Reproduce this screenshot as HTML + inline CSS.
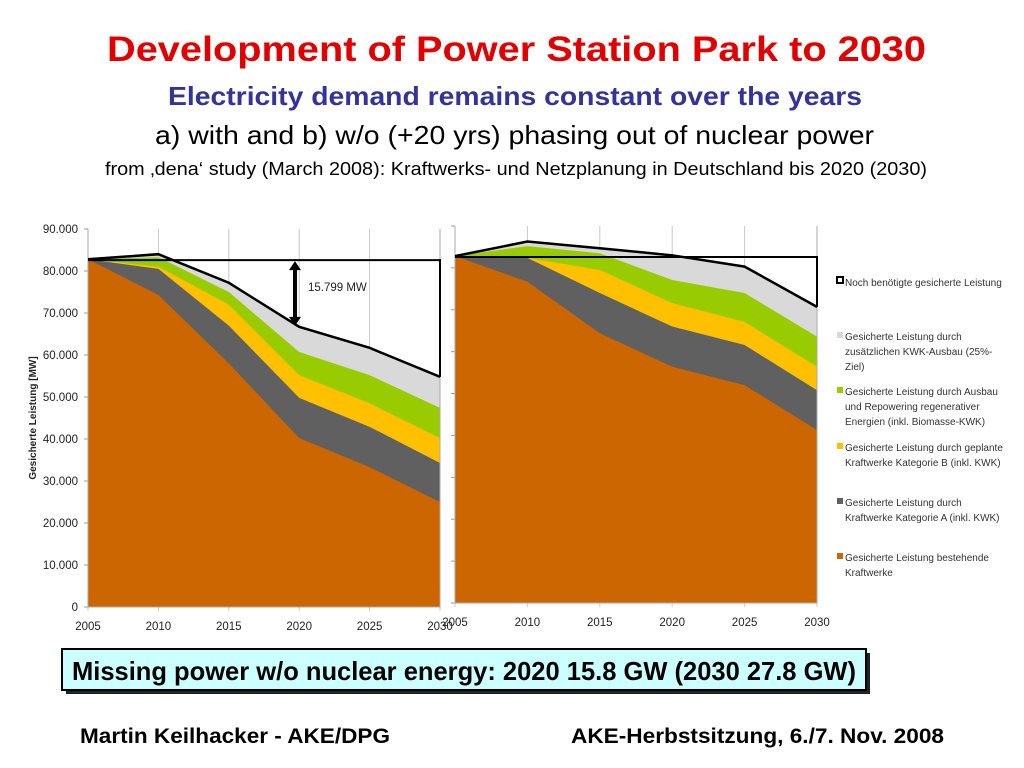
<!DOCTYPE html>
<html><head><meta charset="utf-8"><style>
html,body{margin:0;padding:0;background:#fff}
svg{display:block;font-family:"Liberation Sans",Arial,sans-serif}
</style></head><body>
<svg id="s" width="1024" height="768" viewBox="0 0 1024 768">
<text x="107" y="61" textLength="819" lengthAdjust="spacingAndGlyphs" font-size="35" font-weight="bold" fill="#e00000">Development of Power Station Park to 2030</text>
<text x="168" y="105" textLength="694" lengthAdjust="spacingAndGlyphs" font-size="26" font-weight="bold" fill="#333399">Electricity demand remains constant over the years</text>
<text x="155" y="144" textLength="719" lengthAdjust="spacingAndGlyphs" font-size="26" fill="#000">a) with and b) w/o (+20 yrs) phasing out of nuclear power</text>
<text x="105" y="175" textLength="822" lengthAdjust="spacingAndGlyphs" font-size="18" fill="#000">from ‚dena‘ study (March 2008): Kraftwerks- und Netzplanung in Deutschland bis 2020 (2030)</text>
<g id="charts"></g>
<g id="legend"></g>
<rect x="66" y="653" width="804" height="41" fill="#222"/>
<rect x="62" y="649" width="804" height="41" fill="#ccffff" stroke="#000" stroke-width="2"/>
<text x="72" y="680" textLength="784" lengthAdjust="spacingAndGlyphs" font-size="26" font-weight="bold">Missing power w/o nuclear energy: 2020 15.8 GW (2030 27.8 GW)</text>
<text x="80" y="743" textLength="310" lengthAdjust="spacingAndGlyphs" font-size="21" font-weight="bold">Martin Keilhacker - AKE/DPG</text>
<text x="571" y="743" textLength="373" lengthAdjust="spacingAndGlyphs" font-size="21" font-weight="bold">AKE-Herbstsitzung, 6./7. Nov. 2008</text>
</svg>
<script>
const years = [2005, 2010, 2015, 2020, 2025, 2030];
const yTicks = [0, 10000, 20000, 30000, 40000, 50000, 60000, 70000, 80000, 90000];
const yTickLabels = ["0","10.000","20.000","30.000","40.000","50.000","60.000","70.000","80.000","90.000"];
const demand = 82600;
// Cumulative tops, scenario a (with nuclear phase-out)
const aOrange = [82800, 74300, 58000, 40200, 33300, 25000];
const aGrey   = [82800, 80500, 67000, 49800, 42900, 34300];
const aYellow = [82800, 81000, 72000, 55200, 48500, 40200];
const aGreen  = [82800, 83300, 75000, 60700, 55200, 47400];
const aTotal  = [82800, 84000, 77200, 66700, 61700, 54800];
// Cumulative tops, scenario b (+20 yrs)
const bOrange = [82800, 76700, 64400, 56400, 52000, 41300];
const bGrey   = [82800, 82400, 74000, 66000, 61600, 50800];
const bYellow = [82800, 82400, 79500, 71600, 67100, 56400];
const bGreen  = [82800, 85200, 83500, 77100, 74000, 63600];
const bTotal  = [82800, 86300, 84700, 83000, 80300, 70700];
const gapLabel = "15.799 MW";
const colors = ["#cc6600", "#606060", "#ffc000", "#99cc00", "#d9d9d9"];
const NS = "http://www.w3.org/2000/svg";
const root = document.getElementById('charts');
function mk(tag, attrs, parent){const e=document.createElementNS(NS,tag);for(const k in attrs)e.setAttribute(k,attrs[k]);(parent||root).appendChild(e);return e;}

function chart(cfg, layers, total, name, showY){
  const g = mk('g', {});
  
  
  const xs = v => cfg.x0 + (v - years[0]) / (years[years.length-1] - years[0]) * (cfg.x1 - cfg.x0);
  const ys = v => cfg.y0 - v / 90000 * (cfg.y0 - cfg.y1);
  years.forEach(yr => {
    const l = mk('line', {x1: xs(yr), x2: xs(yr), y1: cfg.y1, y2: cfg.y0 + 4, stroke: '#c8c8c8', 'stroke-width': 1}, g);
    
    
    const t = mk('text', {x: xs(yr), y: cfg.y0 + 23, 'font-size': 11.5, 'text-anchor': 'middle', fill: '#222'}, g);
    t.textContent = yr;
    
    
  });
  yTicks.forEach((v, i) => {
    const l = mk('line', {x1: cfg.x0 - 4, x2: cfg.x0, y1: ys(v), y2: ys(v), stroke: '#999'}, g);
    
    
    if (showY) {
      const t = mk('text', {x: cfg.x0 - 10, y: ys(v) + 4, 'font-size': 11.5, 'text-anchor': 'end', fill: '#222'}, g);
      t.textContent = yTickLabels[i];
      
      
    }
  });
  const stacks = layers;
  for (let i = stacks.length - 1; i >= 0; i--) {
    let d = 'M' + xs(years[0]) + ',' + ys(0);
    years.forEach((yr, j) => d += ' L' + xs(yr) + ',' + ys(stacks[i][j]));
    d += ' L' + xs(years[years.length-1]) + ',' + ys(0) + 'Z';
    const p = mk('path', {d: d, fill: colors[i]}, g);
    
    
  }
  const fr = mk('path', {d: `M${cfg.x0},${cfg.y1} V${cfg.y0} H${cfg.x1} V${cfg.y1}`, fill: 'none', stroke: '#aaa'}, g);
  
  
  let d = '';
  years.forEach((yr, j) => d += (j ? ' L' : 'M') + xs(yr) + ',' + ys(total[j]));
  const tl = mk('path', {d: d, fill: 'none', stroke: '#000', 'stroke-width': 2.5}, g);
  
  
  const dl = mk('path', {d: `M${xs(years[0])},${ys(demand)} H${xs(years[5])} V${ys(total[5])}`, fill: 'none', stroke: '#000', 'stroke-width': 2}, g);
  
  
  return {xs, ys, g};
}

const A = chart({x0: 88, x1: 440, y0: 607, y1: 229}, [aOrange, aGrey, aYellow, aGreen, aTotal], aTotal, 'chart-a', true);
const B = chart({x0: 455, x1: 817, y0: 603, y1: 226}, [bOrange, bGrey, bYellow, bGreen, bTotal], bTotal, 'chart-b', false);

(function(){
  const ax = A.xs(2015) + 0.94 * (A.xs(2020) - A.xs(2015));
  const yt = A.ys(demand), yb = A.ys(aTotal[3]);
  const l = mk('line', {x1: ax, x2: ax, y1: yt + 8, y2: yb - 8, stroke: '#000', 'stroke-width': 4}, A.g);
  
  
  const h1 = mk('path', {d: `M${ax-6},${yt+10} L${ax},${yt+1} L${ax+6},${yt+10}Z`, fill: '#000'}, A.g);
  
  
  const h2 = mk('path', {d: `M${ax-6},${yb-10} L${ax},${yb-1} L${ax+6},${yb-10}Z`, fill: '#000'}, A.g);
  
  
  const t = mk('text', {x: ax + 13, y: yt + 31, 'font-size': 11.5, fill: '#222'}, A.g);
  t.textContent = gapLabel;
  
  
})();

const yt = mk('text', {x: 0, y: 0, 'font-size': 10, 'font-weight': 'bold', fill: '#222', 'text-anchor': 'middle', transform: 'translate(36,418) rotate(-90)'});
yt.textContent = 'Gesicherte Leistung [MW]';



const legendItems = [
  {c: null, y: 282, lines: ["Noch benötigte gesicherte Leistung"]},
  {c: colors[4], y: 336, lines: ["Gesicherte Leistung durch", "zusätzlichen KWK-Ausbau (25%-", "Ziel)"]},
  {c: colors[3], y: 391, lines: ["Gesicherte Leistung durch Ausbau", "und Repowering regenerativer", "Energien (inkl. Biomasse-KWK)"]},
  {c: colors[2], y: 447, lines: ["Gesicherte Leistung durch geplante", "Kraftwerke Kategorie B (inkl. KWK)"]},
  {c: colors[1], y: 502, lines: ["Gesicherte Leistung durch", "Kraftwerke Kategorie A (inkl. KWK)"]},
  {c: colors[0], y: 557, lines: ["Gesicherte Leistung bestehende", "Kraftwerke"]}
];
const lg = document.getElementById('legend');
legendItems.forEach(it => {
  const m = it.c ? mk('rect', {x: 837, y: it.y - 4, width: 6, height: 6, fill: it.c}, lg)
                 : mk('rect', {x: 837, y: it.y - 5, width: 6, height: 6, fill: '#fff', stroke: '#000', 'stroke-width': 2}, lg);
  
  
  it.lines.forEach((ln, k) => {
    const t = mk('text', {x: 845, y: it.y + 4 + k * 15, 'font-size': 10, fill: '#333'}, lg);
    t.textContent = ln;
    
    
  });
});
</script>
</body></html>
